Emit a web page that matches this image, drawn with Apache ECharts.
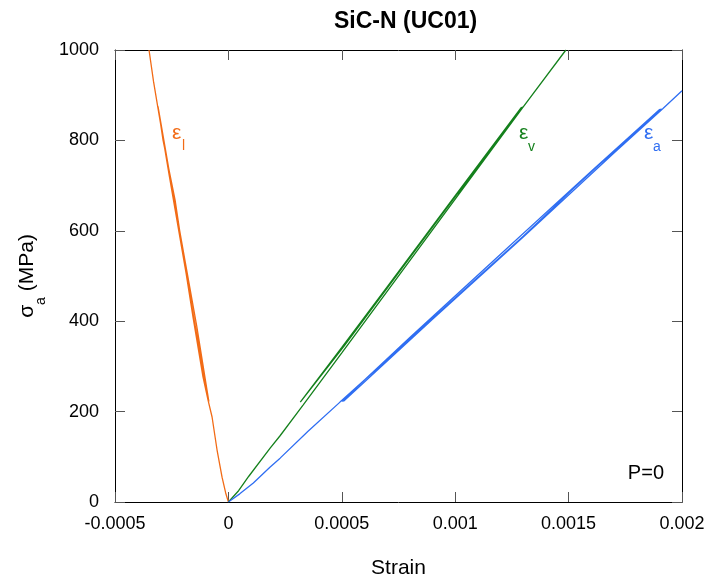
<!DOCTYPE html>
<html>
<head>
<meta charset="utf-8">
<script src="https://cdn.jsdelivr.net/npm/echarts@6/dist/echarts.min.js"></script>
<style>
  html, body { margin: 0; padding: 0; background: #fff; }
  #chart { width: 704px; height: 580px; }
</style>
</head>
<body>
<div id="chart"></div>
<script>
// Uniaxial compression of SiC-N (UC01): lateral, volumetric and axial strain vs axial stress.
// Each path: loading, partial unloading, reloading.

const lateralStrain = [0, -0.000012, -0.000028, -0.000050, -0.000072, -0.000090, -0.000112, -0.000156, -0.000191, -0.000235, -0.000288, -0.000310,
  -0.000306, -0.000250, -0.000190, -0.000140, -0.000095, -0.000086,
  -0.000092, -0.000150, -0.000200, -0.000260, -0.000312, -0.000330, -0.000350];
const lateralStress = [0, 20, 55, 115, 188, 226, 277, 409, 520, 668, 800, 874,
  870, 700, 530, 390, 250, 222,
  235, 400, 545, 720, 876, 930, 1000];

const volumetricStrain = [0, 0.000045, 0.000090, 0.000184, 0.000227, 0.000330, 0.000500, 0.000700, 0.000900, 0.001100, 0.001300,
  0.001290, 0.001000, 0.000700, 0.000500, 0.000317,
  0.000510, 0.000710, 0.001010, 0.001300, 0.001488];
const volumetricStress = [0, 25, 57, 119, 146, 215, 330, 466, 602, 738, 874,
  872, 678, 476, 342, 221,
  345, 480, 682, 874, 1000];

const axialStrain = [0, 0.000050, 0.000110, 0.000183, 0.000228, 0.000350, 0.000492, 0.000698, 0.000900, 0.001100, 0.001300, 0.001514, 0.001638, 0.001910,
  0.001900, 0.001600, 0.001200, 0.000800, 0.000500,
  0.000510, 0.000900, 0.001300, 0.001700, 0.001915, 0.002000];
const axialStress = [0, 18, 42, 77, 97, 156, 221, 314, 406, 497, 588, 690, 748, 869,
  868, 732, 548, 364, 223,
  224, 404, 586, 772, 870, 910];

const xTickLabels = ['-0.0005', '0', '0.0005', '0.001', '0.0015', '0.002'];
const yTickLabels = ['0', '200', '400', '600', '800', '1000'];

const COLORS = { lateral: '#f26b16', volumetric: '#14801c', axial: '#2f6ef2' };
const FONT = 'Arial, "Liberation Sans", sans-serif';

function pairs(xs, ys) { return xs.map((x, i) => [x, ys[i]]); }

const chart = echarts.init(document.getElementById('chart'), null, { renderer: 'canvas' });

const tickStyle = { show: true, inside: true, length: 10, lineStyle: { color: '#555', width: 1 } };
const lineStyleAxis = { show: true, lineStyle: { color: '#000', width: 1 } };

function lineSeries(name, xs, ys, color) {
  return {
    name, type: 'line', data: pairs(xs, ys),
    showSymbol: false, symbol: 'none', smooth: false,
    lineStyle: { color, width: 1.3 }, itemStyle: { color },
    clip: true, animation: false
  };
}

const option = {
  animation: false,
  textStyle: { fontFamily: FONT },
  title: {
    text: 'SiC-N (UC01)', left: 329, top: 5,
    textStyle: { fontFamily: FONT, fontSize: 23, fontWeight: 'bold', color: '#000' }
  },
  grid: { left: 115, right: 22, top: 50, bottom: 78, containLabel: false, outerBoundsMode: 'none' },
  xAxis: [{
    type: 'value', position: 'bottom', min: -0.0005, max: 0.002, interval: 0.0005,
    name: 'Strain', nameLocation: 'middle', nameGap: 56,
    nameTextStyle: { fontFamily: FONT, fontSize: 21, color: '#000' },
    axisLine: { ...lineStyleAxis, onZero: false }, axisTick: tickStyle, splitLine: { show: false },
    axisLabel: { margin: 13, fontFamily: FONT, fontSize: 18, color: '#000',
      formatter: (v, i) => xTickLabels[i] }
  }, {
    type: 'value', position: 'top', min: -0.0005, max: 0.002, interval: 0.0005,
    axisLine: { ...lineStyleAxis, onZero: false }, axisTick: tickStyle, splitLine: { show: false },
    axisLabel: { show: false }
  }],
  yAxis: [{
    type: 'value', position: 'left', min: 0, max: 1000, interval: 200,
    name: '{m|σ}{s|a}{m| (MPa)}', nameLocation: 'middle', nameGap: 67, nameRotate: 90,
    nameTextStyle: {
      fontFamily: FONT, color: '#000',
      rich: {
        m: { fontFamily: FONT, fontSize: 21, lineHeight: 21, verticalAlign: 'top', color: '#000' },
        s: { fontFamily: FONT, fontSize: 14, lineHeight: 31, verticalAlign: 'bottom', color: '#000' }
      }
    },
    axisLine: { ...lineStyleAxis, onZero: false }, axisTick: tickStyle, splitLine: { show: false },
    axisLabel: { margin: 16, fontFamily: FONT, fontSize: 18, color: '#000',
      formatter: (v, i) => yTickLabels[i] }
  }, {
    type: 'value', position: 'right', min: 0, max: 1000, interval: 200,
    axisLine: { ...lineStyleAxis, onZero: false }, axisTick: tickStyle, splitLine: { show: false },
    axisLabel: { show: false }
  }],
  series: [
    lineSeries('lateral', lateralStrain, lateralStress, COLORS.lateral),
    lineSeries('volumetric', volumetricStrain, volumetricStress, COLORS.volumetric),
    lineSeries('axial', axialStrain, axialStress, COLORS.axial)
  ],
  graphic: [
    { type: 'text', x: 172, y: 123, style: { text: 'ε', font: '21px ' + FONT, fill: COLORS.lateral, align: 'left', verticalAlign: 'top' } },
    { type: 'text', x: 182, y: 139, style: { text: 'l', font: '14px ' + FONT, fill: COLORS.lateral, align: 'left', verticalAlign: 'top' } },
    { type: 'text', x: 519, y: 123, style: { text: 'ε', font: '21px ' + FONT, fill: COLORS.volumetric, align: 'left', verticalAlign: 'top' } },
    { type: 'text', x: 528, y: 140, style: { text: 'v', font: '14px ' + FONT, fill: COLORS.volumetric, align: 'left', verticalAlign: 'top' } },
    { type: 'text', x: 644, y: 123, style: { text: 'ε', font: '21px ' + FONT, fill: COLORS.axial, align: 'left', verticalAlign: 'top' } },
    { type: 'text', x: 653, y: 140, style: { text: 'a', font: '14px ' + FONT, fill: COLORS.axial, align: 'left', verticalAlign: 'top' } },
    { type: 'text', x: 664, y: 463, style: { text: 'P=0', font: '20px ' + FONT, fill: '#000', align: 'right', verticalAlign: 'top' } }
  ]
};

chart.setOption(option);
</script>
</body>
</html>
